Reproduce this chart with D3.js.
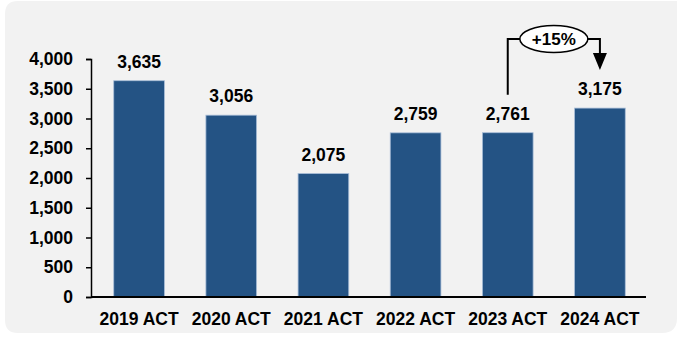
<!DOCTYPE html>
<html>
<head>
<meta charset="utf-8">
<script src="https://cdn.jsdelivr.net/npm/d3@7"></script>
<style>
  body { margin: 0; background: #ffffff; }
  svg text { font-family: "Liberation Sans", Arial, sans-serif; font-weight: bold; fill: #000; }
</style>
</head>
<body>
<svg id="chart" width="677" height="337"></svg>
<script>
// chart data
var categories = ["2019 ACT", "2020 ACT", "2021 ACT", "2022 ACT", "2023 ACT", "2024 ACT"];
var values = [3635, 3056, 2075, 2759, 2761, 3175];
var yTicks = [0, 500, 1000, 1500, 2000, 2500, 3000, 3500, 4000];

var svg = d3.select("#chart");

// rounded grey panel behind the chart
svg.append("path")
  .attr("d", "M5,14 Q5,1 18,1 L677,1 L677,318 Q677,333 662,333 L18,333 Q5,333 5,320 Z")
  .attr("fill", "#f2f2f2");

var x = d3.scaleBand().domain(categories).range([93, 646])
  .paddingInner(0.45).paddingOuter(0.225);
var y = d3.scaleLinear().domain([0, 4000]).range([297, 59]);

// y axis
var yAxis = svg.append("g")
  .attr("transform", "translate(91,0)")
  .call(d3.axisLeft(y).tickValues(yTicks).tickSize(5).tickPadding(13)
    .tickFormat(d3.format(",")));
yAxis.selectAll("text").style("font-size", "17.5px");
yAxis.selectAll("line, path").attr("stroke", "#000").attr("stroke-width", 1.5);

// bars
svg.selectAll(".bar")
  .data(values)
  .enter().append("rect")
    .attr("class", "bar")
    .attr("x", function(d, i) { return x(categories[i]); })
    .attr("y", function(d) { return y(d); })
    .attr("width", x.bandwidth())
    .attr("height", function(d) { return y(0) - y(d); })
    .attr("fill", "#245384")
    .attr("stroke", "#a9bed8")
    .attr("stroke-width", 0.8);

// value labels
svg.selectAll(".val")
  .data(values)
  .enter().append("text")
    .attr("class", "val")
    .attr("x", function(d, i) { return x(categories[i]) + x.bandwidth() / 2; })
    .attr("y", function(d) { return y(d) - 13; })
    .attr("text-anchor", "middle")
    .style("font-size", "17.5px")
    .text(function(d) { return d3.format(",")(d); });

// x axis
var xAxis = svg.append("g")
  .attr("transform", "translate(0,297)")
  .call(d3.axisBottom(x).tickSize(0).tickPadding(16));
xAxis.select(".domain").remove();
xAxis.selectAll("text").style("font-size", "17.5px");
svg.append("line")
  .attr("x1", 91).attr("x2", 646)
  .attr("y1", y(0)).attr("y2", y(0))
  .attr("stroke", "#000").attr("stroke-width", 2);

// growth annotation 2023 -> 2024
var x0 = x(categories[4]) + x.bandwidth() / 2;
var x1 = x(categories[5]) + x.bandwidth() / 2;
var topY = y(4000) - 20;
var cx = (x0 + x1) / 2;
var growth = Math.round((values[5] / values[4] - 1) * 100);

svg.append("path")
  .attr("d", "M" + x0 + "," + (y(values[4]) - 38) + " V" + topY + " H" + x1 + " V" + (y(values[5]) - 52))
  .attr("fill", "none").attr("stroke", "#000").attr("stroke-width", 2);
svg.append("path")
  .attr("d", "M" + (x1 - 7) + "," + (y(values[5]) - 55) + " L" + (x1 + 7) + "," + (y(values[5]) - 55) +
    " L" + x1 + "," + (y(values[5]) - 38) + " Z")
  .attr("fill", "#000");
svg.append("ellipse")
  .attr("cx", cx).attr("cy", topY)
  .attr("rx", 34).attr("ry", 13.5)
  .attr("fill", "#fff").attr("stroke", "#000").attr("stroke-width", 1.5);
svg.append("text")
  .attr("x", cx).attr("y", topY)
  .attr("dy", "0.35em")
  .attr("text-anchor", "middle")
  .style("font-size", "17px")
  .text("+" + growth + "%");
</script>
</body>
</html>
